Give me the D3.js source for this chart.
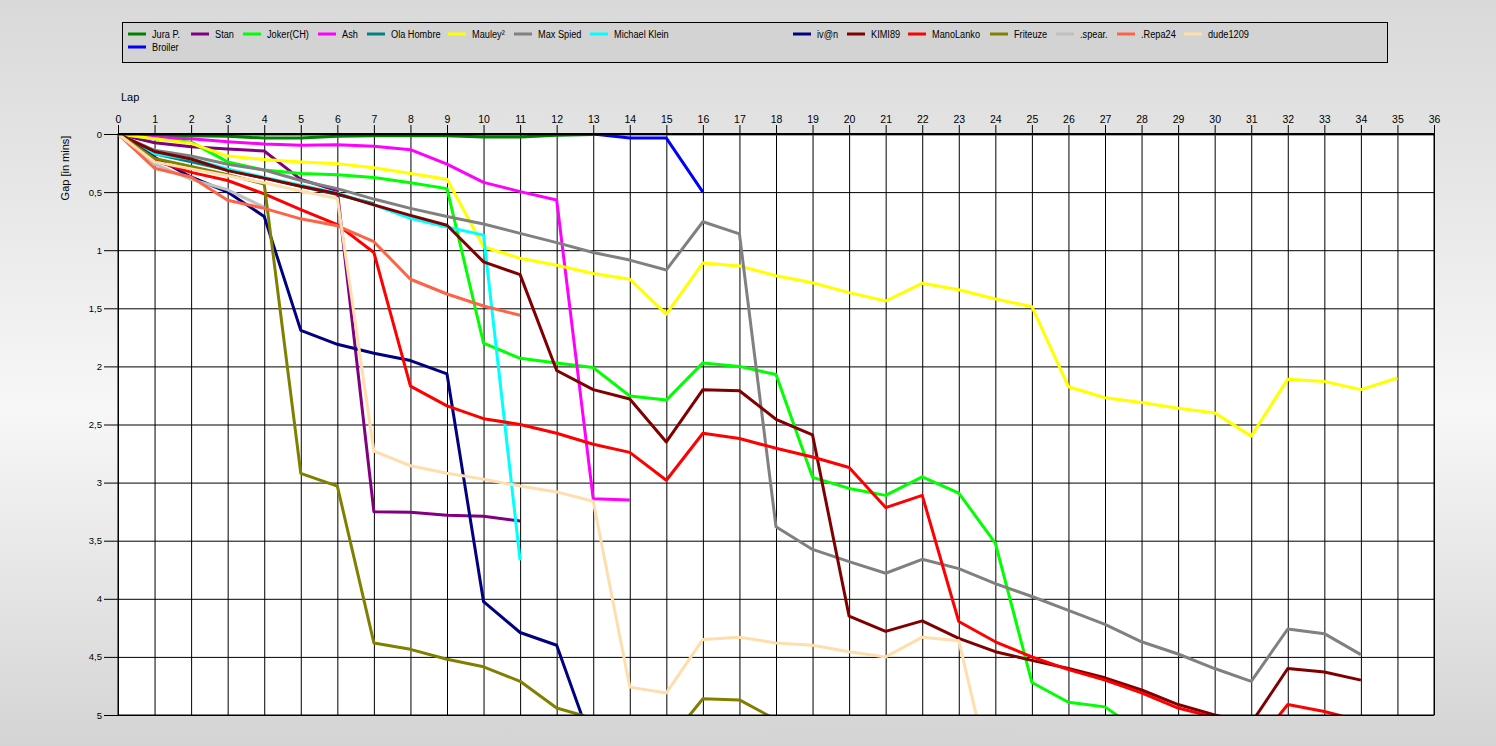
<!DOCTYPE html>
<html><head><meta charset="utf-8">
<script src="https://cdn.jsdelivr.net/npm/d3@7"></script>
<style>
html,body{margin:0;padding:0;overflow:hidden;}
text{font-family:"Liberation Sans",Arial,sans-serif;}
</style></head>
<body><svg id="c" width="1496" height="746"></svg>
<script>
// ---------- data ----------
const drivers = ["Jura P.","Stan","Joker(CH)","Ash","Ola Hombre","Mauley²","Max Spied","Michael Klein","iv@n","KIMI89","ManoLanko","Friteuze",".spear.",".Repa24","dude1209","Broiler"];
const colors = ["#008000","#800080","#00ff00","#ff00ff","#008080","#ffff00","#808080","#00ffff","#000080","#800000","#ff0000","#808000","#c0c0c0","#ff6347","#ffdead","#0000ff"];
const lapTicks = d3.range(0,37);
const gapTicks = [0,0.5,1,1.5,2,2.5,3,3.5,4,4.5,5];

// gaps (minutes) per lap, starting at lap 0
const juraP = [0,0.01,0.015,0.02,0.035,0.035,0.02,0.015,0.015,0.015,0.025,0.025,0.01,0.005,0,0,0,0,0,0,0,0,0,0,0,0,0,0,0,0,0,0,0,0,0,0,0];
const stan = [0,0.075,0.11,0.13,0.146,0.39,0.49,3.25,3.256,3.28,3.29,3.33];
const joker = [0,0.04,0.07,0.24,0.31,0.34,0.35,0.375,0.42,0.47,1.80,1.93,1.97,2.01,2.255,2.29,1.97,2.00,2.07,2.955,3.05,3.11,2.95,3.09,3.52,4.72,4.89,4.93,5.15];
const ash = [0,0.03,0.04,0.066,0.086,0.097,0.092,0.106,0.135,0.26,0.416,0.496,0.568,3.14,3.15];
const olaHombre = [0,0.17,0.24,0.31,0.38,0.45,0.52,0.6];
const mauley = [0,0.04,0.08,0.19,0.22,0.24,0.255,0.29,0.34,0.39,0.97,1.07,1.13,1.20,1.25,1.55,1.11,1.136,1.22,1.28,1.365,1.437,1.285,1.34,1.42,1.486,2.175,2.27,2.31,2.36,2.40,2.60,2.11,2.13,2.20,2.10];
const maxSpied = [0,0.14,0.19,0.26,0.31,0.40,0.47,0.56,0.64,0.71,0.775,0.855,0.935,1.02,1.085,1.17,0.755,0.86,3.38,3.575,3.68,3.78,3.66,3.74,3.87,3.98,4.10,4.22,4.37,4.475,4.60,4.71,4.26,4.30,4.48];
const michaelKlein = [0,0.17,0.215,0.30,0.375,0.44,0.51,0.61,0.725,0.80,0.87,3.67];
const ivan = [0,0.2,0.37,0.5,0.71,1.69,1.81,1.887,1.95,2.065,4.025,4.29,4.40,5.28];
const kimi89 = [0,0.15,0.215,0.315,0.38,0.45,0.515,0.61,0.70,0.785,1.10,1.21,2.035,2.20,2.28,2.65,2.20,2.21,2.455,2.59,4.15,4.28,4.19,4.34,4.455,4.53,4.60,4.68,4.785,4.91,5.0,5.07,4.60,4.63,4.70];
const manoLanko = [0,0.23,0.33,0.40,0.515,0.65,0.78,1.02,2.17,2.34,2.45,2.50,2.575,2.67,2.74,2.98,2.575,2.62,2.705,2.78,2.87,3.215,3.11,4.195,4.37,4.50,4.61,4.70,4.81,4.94,5.02,5.3,4.91,4.97,5.05];
const friteuze = [0,0.21,0.28,0.35,0.43,2.92,3.03,4.38,4.435,4.52,4.585,4.71,4.94,5.03,5.3,5.25,4.86,4.87,5.04];
const spear = [0,0.26,0.39,0.48,0.63];
const repa24 = [0,0.295,0.37,0.57,0.64,0.73,0.79,0.927,1.25,1.377,1.48,1.56];
const dude1209 = [0,0.24,0.30,0.36,0.42,0.49,0.555,2.73,2.855,2.92,2.97,3.03,3.08,3.16,4.76,4.81,4.35,4.33,4.38,4.40,4.455,4.50,4.33,4.36,5.7];
const broiler = [0,0,0,0,0,0,0,0,0,0,0,0,0,0,0.035,0.035,0.5];

const seriesValues = [juraP,stan,joker,ash,olaHombre,mauley,maxSpied,michaelKlein,ivan,kimi89,manoLanko,friteuze,spear,repa24,dude1209,broiler];

// ---------- layout ----------
const W = 1496, H = 746;
const L = 118, R = 1434, T = 134, B = 715;
const svg = d3.select("#c");

const defs = svg.append("defs");
const bg = defs.append("linearGradient").attr("id","bg").attr("x1",0).attr("y1",0).attr("x2",0).attr("y2",1);
bg.append("stop").attr("offset","0%").attr("stop-color","#d9d9d9");
bg.append("stop").attr("offset","55%").attr("stop-color","#f7f7f7");
bg.append("stop").attr("offset","100%").attr("stop-color","#d4d4d4");
defs.append("clipPath").attr("id","clip").append("rect").attr("x",L).attr("y",T).attr("width",R-L+2).attr("height",B-T);

svg.append("rect").attr("width",W).attr("height",H).attr("fill","url(#bg)");

const x = d3.scaleLinear().domain([0,36]).range([L,R]);
const y = d3.scaleLinear().domain([0,5]).range([T,B]);

svg.append("rect").attr("x",L).attr("y",T).attr("width",R-L).attr("height",B-T).attr("fill","#fff");

// grid
const gx = svg.append("g").attr("transform",`translate(0,${T})`)
  .call(d3.axisTop(x).tickValues(lapTicks).tickSizeInner(9).tickSizeOuter(0).tickPadding(2).tickFormat(d3.format("d")));
gx.select(".domain").remove();
gx.selectAll("line").attr("y2",-9).attr("y1",B-T).attr("stroke","#000");
gx.selectAll("text").attr("font-size","10.5px").attr("fill","#000");

const gy = svg.append("g").attr("transform",`translate(${L},0)`)
  .call(d3.axisLeft(y).tickValues(gapTicks).tickSizeInner(14).tickSizeOuter(0).tickPadding(2).tickFormat(d=>String(d).replace(".",",")));
gy.select(".domain").remove();
gy.selectAll("line").attr("x2",-14).attr("x1",R-L).attr("stroke","#000");
gy.selectAll("text").attr("font-size","9.5px").attr("fill","#000");

// lines
const line = d3.line().x((d,i)=>x(i)).y(d=>y(d));
const lg = svg.append("g").attr("clip-path","url(#clip)");
seriesValues.forEach((vals,k)=>{
  lg.append("path").attr("d",line(vals)).attr("fill","none")
    .attr("stroke",colors[k]).attr("stroke-width",3).attr("stroke-linejoin","round");
});

svg.append("rect").attr("x",L).attr("y",T).attr("width",R-L).attr("height",B-T).attr("fill","none").attr("stroke","#000").attr("stroke-width",1);
svg.append("line").attr("x1",L).attr("x2",R).attr("y1",T).attr("y2",T).attr("stroke","#000").attr("stroke-width",2);

// axis titles
svg.append("text").attr("x",121).attr("y",101).attr("font-size","11px").text("Lap");
svg.append("text").attr("transform","translate(69,168) rotate(-90)").attr("text-anchor","middle").attr("font-size","11px").text("Gap [in mins]");

// legend
svg.append("rect").attr("x",122.5).attr("y",22.5).attr("width",1265).attr("height",40).attr("fill","#d3d3d3").attr("stroke","#000");
const legendX = [128,191,243,318,367,448,514,590,793,847,908,990,1056,1117,1184,128];
drivers.forEach((name,k)=>{
  const row = k===15 ? 1 : 0;
  const ly = 34 + row*13;
  const lx = legendX[k];
  svg.append("line").attr("x1",lx).attr("x2",lx+18).attr("y1",ly).attr("y2",ly).attr("stroke",colors[k]).attr("stroke-width",3);
  svg.append("text").attr("transform",`translate(${lx+24},${ly+4}) scale(0.8,1)`)
    .attr("font-size","11.5px").attr("fill","#000").text(name);
});
</script></body></html>
